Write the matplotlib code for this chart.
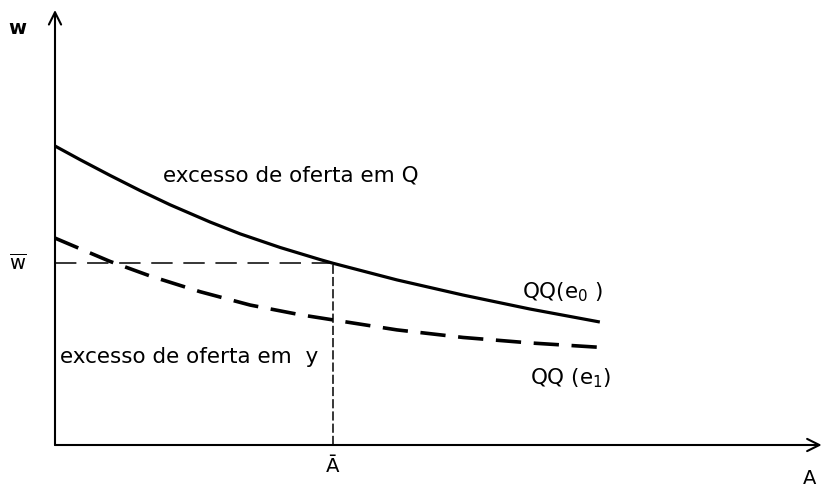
import matplotlib
matplotlib.use("Agg")
import matplotlib.pyplot as plt

# QQ schedules: wage w against A, for two values of e
a_e0 = [0, 0.45, 0.99, 1.53, 2.07, 2.79, 3.33, 4.05, 4.77, 5.0,
        6.15, 7.34, 8.54, 9.8]
w_e0 = [9.87, 9.42, 8.9, 8.4, 7.93, 7.36, 6.97, 6.52, 6.12, 6.0,
        5.45, 4.95, 4.49, 4.06]

a_e1 = [0, 0.99, 1.71, 2.61, 3.51, 4.41, 5.0, 6.15, 7.34, 8.54, 9.75]
w_e1 = [6.83, 6.06, 5.58, 5.06, 4.62, 4.3, 4.13, 3.8, 3.55, 3.37, 3.23]

A_bar = 5.0
w_bar = 6.0

plt.rcParams['mathtext.fontset'] = 'dejavusans'

fig = plt.figure(figsize=(8.25, 4.91), dpi=100)
ax = fig.add_axes([55 / 825, 46 / 491, 770 / 825, 445 / 491])
ax.set_xlim(0, 13.85)
ax.set_ylim(0, 14.69)
ax.axis('off')

# axes with open arrow heads
arrow = dict(arrowstyle='->', lw=1.5, color='black', mutation_scale=22,
             shrinkA=0, shrinkB=0)
ax.annotate('', xy=(0, 14.36), xytext=(0, 0), arrowprops=arrow,
            annotation_clip=False)
ax.annotate('', xy=(13.79, 0), xytext=(0, 0), arrowprops=arrow,
            annotation_clip=False)

ax.plot(a_e0, w_e0, color='black', lw=2.3, solid_joinstyle='round',
        solid_capstyle='butt')
ax.plot(a_e1, w_e1, color='black', lw=2.6, linestyle=(0, (7, 3.5)),
        dash_joinstyle='round')

# reference lines at w-bar and A-bar
ax.plot([0, A_bar], [w_bar, w_bar], color='black', lw=1.1,
        linestyle=(0, (14, 7)))
ax.plot([A_bar, A_bar], [0, w_bar], color='black', lw=1.1,
        linestyle=(0, (6, 2)))

fs = 15.5
ax.text(-0.67, 13.76, 'w', fontsize=14, ha='center', va='center',
        fontweight='bold', clip_on=False)
ax.text(-0.67, 6.0, r'$\overline{\mathrm{w}}$', fontsize=14, ha='center',
        va='center', clip_on=False)
ax.text(A_bar, -0.7, 'Ā', fontsize=14, ha='center', va='center',
        clip_on=False)
ax.text(13.58, -1.12, 'A', fontsize=14, ha='center', va='center',
        clip_on=False)

ax.text(1.94, 8.91, 'excesso de oferta em Q', fontsize=fs, ha='left',
        va='center')
ax.text(0.09, 2.9, 'excesso de oferta em  y', fontsize=fs, ha='left',
        va='center')
ax.text(8.4, 5.05, r'QQ($\mathrm{e}_{0}$ )', fontsize=fs, ha='left',
        va='center')
ax.text(8.54, 2.21, r'QQ ($\mathrm{e}_{1}$)', fontsize=fs, ha='left',
        va='center')

fig.savefig('out.png', dpi=100, facecolor='white')
